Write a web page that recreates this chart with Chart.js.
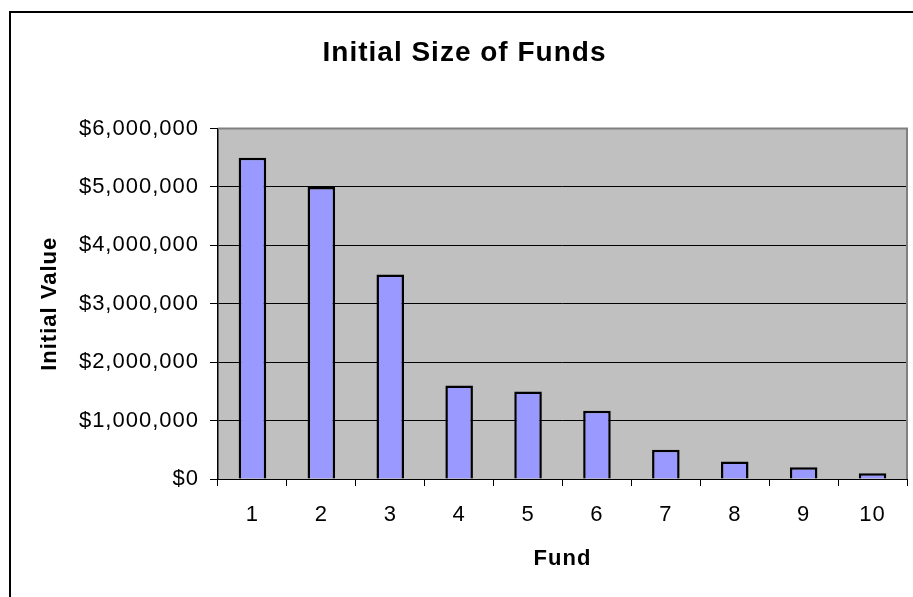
<!DOCTYPE html>
<html>
<head>
<meta charset="utf-8">
<title>Initial Size of Funds</title>
<script src="https://cdn.jsdelivr.net/npm/chart.js@4"></script>
<style>
  body { margin: 0; background: #fff; }
</style>
</head>
<body>
<canvas id="fundsChart" width="913" height="597"></canvas>
<script>
// fund numbers and their starting values (USD)
const funds = ['1', '2', '3', '4', '5', '6', '7', '8', '9', '10'];
const initialValues = [5500000, 5000000, 3500000, 1600000, 1500000, 1170000, 500000, 300000, 200000, 100000];
const yTicks = [0, 1000000, 2000000, 3000000, 4000000, 5000000, 6000000];

const FONT = '"Liberation Sans", Arial, sans-serif';

// grey plot background, frame around the plot and the outer chart border
const plotFrame = {
    id: 'plotFrame',
    beforeDraw(chart) {
        const ctx = chart.ctx;
        const a = chart.chartArea;
        ctx.letterSpacing = '1px';
        ctx.save();
        ctx.fillStyle = '#C0C0C0';
        ctx.fillRect(a.left, a.top, a.right - a.left, a.bottom - a.top);
        ctx.restore();
    },
    afterDraw(chart) {
        const ctx = chart.ctx;
        const a = chart.chartArea;
        ctx.save();
        ctx.strokeStyle = '#808080';
        ctx.lineWidth = 2;
        ctx.beginPath();
        ctx.moveTo(a.left, a.top);
        ctx.lineTo(a.right, a.top);
        ctx.lineTo(a.right, a.bottom);
        ctx.stroke();
        ctx.strokeStyle = '#000';
        ctx.lineWidth = 2;
        ctx.strokeRect(10, 12, 1000, 1000);
        ctx.restore();
    }
};

new Chart(document.getElementById('fundsChart'), {
    type: 'bar',
    data: {
        labels: funds,
        datasets: [{
            label: 'Initial Value',
            data: initialValues,
            backgroundColor: '#9999FF',
            borderColor: '#000',
            borderWidth: 2.5,
            barPercentage: 0.5,
            categoryPercentage: 0.8
        }]
    },
    options: {
        responsive: false,
        animation: false,
        layout: { padding: { left: 22, right: 6, top: 0, bottom: 0 } },
        plugins: {
            legend: { display: false },
            tooltip: { enabled: false },
            title: {
                display: true,
                text: 'Initial Size of Funds',
                color: '#000',
                font: { family: FONT, size: 28, weight: 'bold' },
                padding: { top: 36, bottom: 59 }
            }
        },
        scales: {
            x: {
                grid: {
                    drawOnChartArea: false,
                    drawTicks: true,
                    tickLength: 7,
                    tickColor: '#000',
                    offset: true
                },
                border: { display: true, color: '#000', width: 1 },
                ticks: {
                    color: '#000',
                    padding: 16,
                    maxRotation: 0,
                    font: { family: FONT, size: 22 }
                },
                title: {
                    display: true,
                    text: 'Fund',
                    color: '#000',
                    font: { family: FONT, size: 22, weight: 'bold' },
                    padding: { top: 0, bottom: 25 }
                },
                afterFit(scale) { scale.height = 118; }
            },
            y: {
                min: 0,
                max: 6000000,
                afterBuildTicks(scale) {
                    scale.ticks = yTicks.map(v => ({ value: v }));
                },
                grid: {
                    color: c => (c.tick && c.tick.value === 6000000) ? '#808080' : '#000',
                    lineWidth: 1,
                    tickLength: 8,
                    tickColor: '#000'
                },
                border: { display: true, color: '#000', width: 1.5 },
                ticks: {
                    color: '#000',
                    padding: 11,
                    font: { family: FONT, size: 22 },
                    callback: v => '$' + Number(v).toLocaleString('en-US')
                },
                title: {
                    display: true,
                    text: 'Initial Value',
                    color: '#000',
                    font: { family: FONT, size: 22, weight: 'bold' },
                    padding: { top: 15, bottom: 0 }
                },
                afterFit(scale) { scale.width = 196; }
            }
        }
    },
    plugins: [plotFrame]
});
</script>
</body>
</html>
